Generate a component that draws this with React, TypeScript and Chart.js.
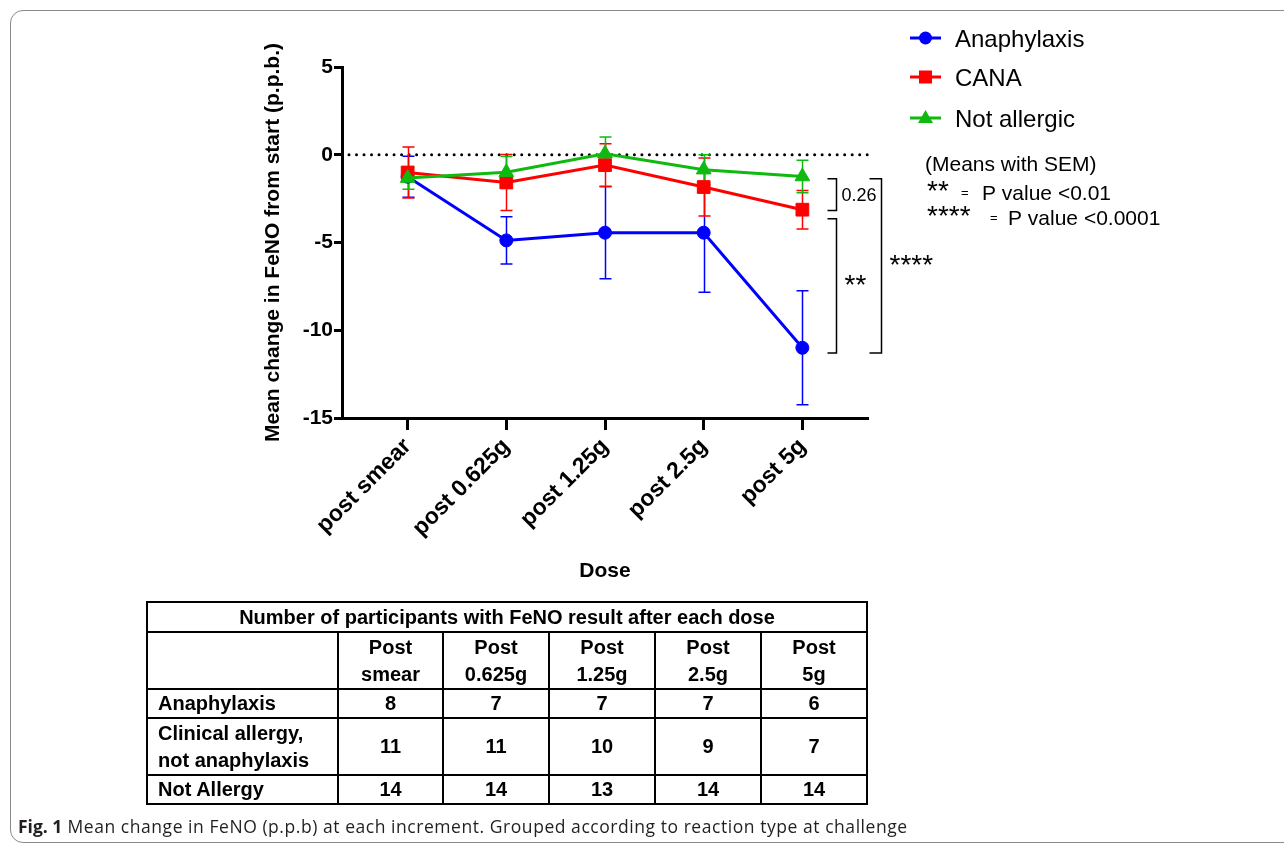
import React, { useEffect, useRef } from "react";
import { Chart, registerables } from "chart.js";

Chart.register(...registerables);

// ---------------- data ----------------
const doses = ["post smear", "post 0.625g", "post 1.25g", "post 2.5g", "post 5g"];
const seriesNames = ["Anaphylaxis", "CANA", "Not allergic"];
const anaMean = [-1.25, -4.88, -4.44, -4.44, -11.0];
const anaSem = [1.17, 1.35, 2.63, 3.4, 3.25];
const canaMean = [-1.01, -1.58, -0.59, -1.84, -3.13];
const canaSem = [1.45, 1.6, 1.22, 1.65, 1.1];
const notMean = [-1.33, -1.0, 0.06, -0.85, -1.24];
const notSem = [0.63, 0.9, 0.95, 0.85, 0.93];
const yMin = -15;
const yMax = 5;
const yStep = 5;

const bracketLabels = ["0.26", "**", "****"];
const bracketTop = [-1.37, -3.65, -1.37];
const bracketBottom = [-3.17, -11.3, -11.3];

const tableTitle = "Number of participants with FeNO result after each dose";
const tableHeads = [["Post", "smear"], ["Post", "0.625g"], ["Post", "1.25g"], ["Post", "2.5g"], ["Post", "5g"]];
const tableRowLabels = [["Anaphylaxis"], ["Clinical allergy,", "not anaphylaxis"], ["Not Allergy"]];
const countAna = [8, 7, 7, 7, 6];
const countCana = [11, 11, 10, 9, 7];
const countNot = [14, 14, 13, 14, 14];
const tableCounts = [countAna, countCana, countNot];

const noteLines = ["(Means with SEM)", "P value <0.01", "P value <0.0001"];
const noteStars = ["**", "****"];

const captionBold = "Fig. 1";
const captionText = "Mean change in FeNO (p.p.b) at each increment. Grouped according to reaction type at challenge";

// ---------------- styles ----------------
const FONT = "'Liberation Sans', Arial, Helvetica, sans-serif";
const BLUE = "#0000ff";
const RED = "#ff0000";
const GREEN = "#10b910";
const STAR_SHIFT = 0.44;

function drawMarker(ctx: CanvasRenderingContext2D, style: string, x: number, y: number, color: string) {
  ctx.fillStyle = color;
  ctx.beginPath();
  if (style === "circle") {
    ctx.arc(x, y, 6.5, 0, Math.PI * 2);
  } else if (style === "rect") {
    ctx.rect(x - 6.5, y - 6.5, 13, 13);
  } else {
    ctx.moveTo(x, y - 8);
    ctx.lineTo(x + 7.5, y + 5);
    ctx.lineTo(x - 7.5, y + 5);
    ctx.closePath();
  }
  ctx.fill();
}

const extrasPlugin = {
  id: "extras",
  beforeDatasetsDraw(chart: any) {
    const { ctx, chartArea } = chart;
    const xs = chart.scales.x;
    const ys = chart.scales.y;
    ctx.save();
    // dotted zero line
    const y0 = ys.getPixelForValue(0);
    ctx.strokeStyle = "#000";
    ctx.lineWidth = 3;
    ctx.lineCap = "round";
    ctx.setLineDash([0.01, 7.5]);
    ctx.beginPath();
    ctx.moveTo(chartArea.left + 7, y0);
    ctx.lineTo(chartArea.right + 2, y0);
    ctx.stroke();
    ctx.setLineDash([]);
    ctx.lineCap = "butt";
    // error bars
    chart.data.datasets.forEach((ds: any) => {
      ctx.strokeStyle = ds.borderColor;
      ctx.lineWidth = 1.5;
      ds.data.forEach((p: any, i: number) => {
        const e = ds.sem[i];
        const px = Math.round(xs.getPixelForValue(p.x)) + 0.5;
        const yt = ys.getPixelForValue(p.y + e);
        const yb = ys.getPixelForValue(p.y - e);
        ctx.beginPath();
        ctx.moveTo(px, yt);
        ctx.lineTo(px, yb);
        ctx.moveTo(px - 6, yt);
        ctx.lineTo(px + 6, yt);
        ctx.moveTo(px - 6, yb);
        ctx.lineTo(px + 6, yb);
        ctx.stroke();
      });
    });
    ctx.restore();
  },
  afterDraw(chart: any) {
    const { ctx } = chart;
    const xs = chart.scales.x;
    const ys = chart.scales.y;
    ctx.save();
    // significance brackets
    const lastX = xs.getPixelForValue(doses.length - 1);
    const bx = [lastX + 34, lastX + 34, lastX + 79];
    const arms = [9, 9, 12];
    ctx.strokeStyle = "#000";
    ctx.fillStyle = "#000";
    ctx.lineWidth = 1.5;
    bracketLabels.forEach((lab, i) => {
      const t = ys.getPixelForValue(bracketTop[i]);
      const b = ys.getPixelForValue(bracketBottom[i]);
      const x = Math.round(bx[i]) + 0.5;
      ctx.beginPath();
      ctx.moveTo(x - arms[i], t);
      ctx.lineTo(x, t);
      ctx.lineTo(x, b);
      ctx.lineTo(x - arms[i], b);
      ctx.stroke();
      const mid = (t + b) / 2;
      ctx.textAlign = "left";
      ctx.textBaseline = "alphabetic";
      if (lab.startsWith("*")) {
        ctx.font = `28px ${FONT}`;
        ctx.fillText(lab, x + 8, mid - 4 + STAR_SHIFT * 28);
      } else {
        ctx.font = `18px ${FONT}`;
        ctx.fillText(lab, x + 5, mid + 0.358 * 18);
      }
    });

    // legend
    const rows = [38, 77, 118];
    chart.data.datasets.forEach((ds: any, i: number) => {
      const y = rows[i];
      ctx.strokeStyle = ds.borderColor;
      ctx.lineWidth = 3;
      ctx.beginPath();
      ctx.moveTo(910, y);
      ctx.lineTo(941, y);
      ctx.stroke();
      drawMarker(ctx, ds.pointStyle, 925.5, y, ds.borderColor);
      ctx.fillStyle = "#000";
      ctx.font = `24px ${FONT}`;
      ctx.textAlign = "left";
      ctx.textBaseline = "alphabetic";
      ctx.fillText(ds.label, 955, y + 0.358 * 24);
    });

    // notes
    ctx.fillStyle = "#000";
    ctx.font = `21px ${FONT}`;
    ctx.fillText(noteLines[0], 925, 163 + 0.358 * 21);
    ctx.font = `28px ${FONT}`;
    ctx.fillText(noteStars[0], 927, 188 + STAR_SHIFT * 28);
    ctx.fillText(noteStars[1], 927, 213 + STAR_SHIFT * 28);
    ctx.font = `13px ${FONT}`;
    ctx.fillText("=", 961, 197);
    ctx.fillText("=", 990, 222);
    ctx.font = `21px ${FONT}`;
    ctx.fillText(noteLines[1], 982, 192 + 0.358 * 21);
    ctx.fillText(noteLines[2], 1008, 217 + 0.358 * 21);
    ctx.restore();
  },
};

function ChartBox() {
  const ref = useRef<HTMLCanvasElement | null>(null);
  useEffect(() => {
    if (!ref.current) return;
    Chart.defaults.font.family = FONT;
    const mk = (label: string, mean: number[], sem: number[], color: string, style: string, order: number) => ({
      label,
      data: mean.map((v, i) => ({ x: i, y: v })),
      sem,
      borderColor: color,
      backgroundColor: color,
      borderWidth: 3,
      pointStyle: style,
      pointRadius: style === "circle" ? 6.5 : style === "rect" ? 9 : 8.5,
      pointBorderWidth: 1,
      pointBorderColor: color,
      pointBackgroundColor: color,
      order,
      clip: false as any,
    });
    const chart = new Chart(ref.current, {
      type: "line",
      data: {
        datasets: [
          mk(seriesNames[0], anaMean, anaSem, BLUE, "circle", 3),
          mk(seriesNames[1], canaMean, canaSem, RED, "rect", 2),
          mk(seriesNames[2], notMean, notSem, GREEN, "triangle", 1),
        ] as any,
      },
      options: {
        animation: false,
        responsive: false,
        devicePixelRatio: 1,
        layout: { padding: { left: 257, top: 67, right: 416, bottom: 255 } },
        plugins: { legend: { display: false }, tooltip: { enabled: false } },
        elements: { line: { tension: 0 } },
        scales: {
          x: {
            type: "linear",
            min: -0.665,
            max: 4.665,
            afterBuildTicks: (s: any) => {
              s.ticks = doses.map((_, i) => ({ value: i }));
            },
            afterFit: (s: any) => {
              s.height = 170;
            },
            ticks: {
              autoSkip: false,
              minRotation: 45,
              maxRotation: 45,
              padding: 3,
              color: "#000",
              font: { size: 23, weight: "bold" },
              callback: (v: any) => doses[v as number] ?? "",
            },
            grid: { drawOnChartArea: false, drawTicks: true, tickLength: 12, tickWidth: 3, tickColor: "#000" },
            border: { display: true, color: "#000", width: 3 },
            title: { display: true, text: "Dose", color: "#000", font: { size: 21, weight: "bold" } },
          },
          y: {
            min: yMin,
            max: yMax,
            afterFit: (s: any) => {
              s.width = 85;
            },
            ticks: { stepSize: yStep, padding: 1, color: "#000", font: { size: 21, weight: "bold" } },
            grid: { drawOnChartArea: false, drawTicks: true, tickLength: 8, tickWidth: 3, tickColor: "#000" },
            border: { display: true, color: "#000", width: 3 },
            title: {
              display: true,
              text: "Mean change in FeNO from start (p.p.b.)",
              color: "#000",
              font: { size: 21, weight: "bold" },
            },
          },
        },
      } as any,
      plugins: [extrasPlugin],
    });
    return () => chart.destroy();
  }, []);
  return <canvas ref={ref} width={1284} height={843} style={{ display: "block", width: 1284, height: 843 }} />;
}

const cell: React.CSSProperties = {
  border: "2px solid #000",
  textAlign: "center",
  verticalAlign: "middle",
  padding: 0,
  lineHeight: "27px",
};

export default function App() {
  const colW = [191, 105, 106, 106, 106, 106];
  return (
    <div style={{ position: "absolute", left: 0, top: 0, width: 1284, height: 843, overflow: "hidden", background: "#fff" }}>
      <div
        style={{
          position: "absolute",
          left: 10,
          top: 10,
          width: 1300,
          height: 831,
          border: "1px solid #8a8a8a",
          borderRadius: 13,
        }}
      />
      <div style={{ position: "absolute", left: 0, top: 0 }}>
        <ChartBox />
      </div>
      <table
        style={{
          position: "absolute",
          left: 146,
          top: 601,
          width: 720,
          borderCollapse: "collapse",
          tableLayout: "fixed",
          fontFamily: FONT,
          fontWeight: "bold",
          fontSize: 20,
          color: "#000",
        }}
      >
        <colgroup>
          {colW.map((w, i) => (
            <col key={i} style={{ width: w }} />
          ))}
        </colgroup>
        <tbody>
          <tr style={{ height: 30 }}>
            <td colSpan={6} style={cell}>
              {tableTitle}
            </td>
          </tr>
          <tr style={{ height: 57 }}>
            <td style={cell}></td>
            {tableHeads.map((h, i) => (
              <td key={i} style={cell}>
                {h[0]}
                <br />
                {h[1]}
              </td>
            ))}
          </tr>
          {tableRowLabels.map((lab, r) => (
            <tr key={r} style={{ height: lab.length > 1 ? 57 : 29 }}>
              <td style={{ ...cell, textAlign: "left", paddingLeft: 10 }}>
                {lab.map((l, k) => (
                  <React.Fragment key={k}>
                    {k > 0 && <br />}
                    {l}
                  </React.Fragment>
                ))}
              </td>
              {tableCounts[r].map((v, i) => (
                <td key={i} style={cell}>
                  {v}
                </td>
              ))}
            </tr>
          ))}
        </tbody>
      </table>
      <div
        style={{
          position: "absolute",
          left: 18,
          top: 814,
          fontFamily: "'Open Sans', sans-serif",
          fontSize: 17.5,
          letterSpacing: 0.55,
          lineHeight: "24px",
          color: "#231f20",
          whiteSpace: "nowrap",
        }}
      >
        <span style={{ fontWeight: "bold", letterSpacing: 0 }}>{captionBold}</span>
        <span>{"  "}</span>
        <span>{captionText}</span>
      </div>
    </div>
  );
}
